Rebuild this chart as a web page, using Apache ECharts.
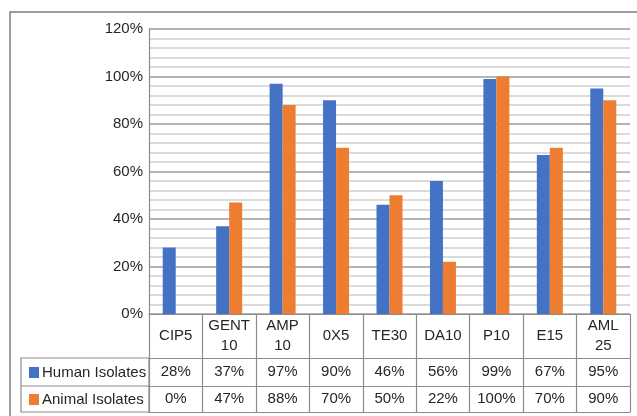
<!DOCTYPE html>
<html>
<head>
<meta charset="utf-8">
<script src="https://cdn.jsdelivr.net/npm/echarts@6/dist/echarts.min.js"></script>
<style>
  html, body { margin: 0; padding: 0; background: #fff; }
  #chart { width: 637px; height: 416px; }
</style>
</head>
<body>
<div id="chart"></div>
<script>
// Antibiotic resistance by isolate source
const categories = ['CIP5', 'GENT\n10', 'AMP\n10', '0X5', 'TE30', 'DA10', 'P10', 'E15', 'AML\n25'];
const humanIsolates = [0.28, 0.37, 0.97, 0.90, 0.46, 0.56, 0.99, 0.67, 0.95];
const animalIsolates = [0.00, 0.47, 0.88, 0.70, 0.50, 0.22, 1.00, 0.70, 0.90];
const seriesNames = ['Human Isolates', 'Animal Isolates'];
const yTicks = [0, 0.2, 0.4, 0.6, 0.8, 1.0, 1.2];

const pct = v => Math.round(v * 100) + '%';
const humanLabels = humanIsolates.map(pct);
const animalLabels = animalIsolates.map(pct);

const BLUE = '#4472C4';
const ORANGE = '#ED7D31';
const TEXT = '#262626';
const BORDER = '#8c8c8c';
const FONT = '"Liberation Sans", Arial, sans-serif';

const tableAxis = (data, offset, tickLen, margin, showLabel) => ({
  type: 'category',
  data: data,
  position: 'bottom',
  offset: offset,
  axisLine: { show: true, lineStyle: { color: BORDER, width: 1.2 } },
  axisTick: { show: tickLen > 0, length: tickLen, interval: 0, lineStyle: { color: BORDER, width: 1.2 } },
  axisLabel: {
    show: showLabel, interval: 0, margin: margin, verticalAlign: 'middle',
    color: TEXT, fontSize: 15, fontFamily: FONT, lineHeight: 20
  },
  splitLine: { show: false }
});

// one legend per table row, each sitting in the row's key cell
const rowLegend = (name, top) => ({
  left: 24,
  top: top,
  itemWidth: 10,
  itemHeight: 11,
  icon: 'rect',
  data: [name],
  textStyle: { color: TEXT, fontSize: 15, fontFamily: FONT, padding: [0, 0, 0, -2] }
});

const chart = echarts.init(document.getElementById('chart'), null, { renderer: 'canvas' });
chart.setOption({
  animation: false,
  backgroundColor: '#fff',
  textStyle: { fontFamily: FONT },
  grid: { left: 149, right: 7, top: 29, bottom: 102, containLabel: false },
  legend: [rowLegend(seriesNames[0], 360), rowLegend(seriesNames[1], 387)],
  xAxis: [
    tableAxis(categories, 0, 98, 22, true),
    tableAxis(humanLabels, 44, 0, 14, true),
    tableAxis(animalLabels, 72, 0, 13, true),
    tableAxis(categories, 98, 0, 0, false)
  ],
  yAxis: {
    type: 'value',
    min: yTicks[0],
    max: yTicks[yTicks.length - 1],
    interval: 0.2,
    axisLine: { show: true, lineStyle: { color: BORDER, width: 1.2 } },
    axisTick: { show: false },
    axisLabel: { formatter: v => pct(v), color: TEXT, fontSize: 15, fontFamily: FONT, margin: 6 },
    splitLine: { show: true, lineStyle: { color: '#9a9a9a', width: 1.5 } },
    minorTick: { show: false, splitNumber: 5 },
    minorSplitLine: { show: true, lineStyle: { color: '#d0d0d0', width: 1.5 } }
  },
  series: [
    {
      name: seriesNames[0], type: 'bar', xAxisIndex: 0, data: humanIsolates,
      itemStyle: { color: BLUE }, barWidth: 13, barGap: '0%'
    },
    {
      name: seriesNames[1], type: 'bar', xAxisIndex: 0, data: animalIsolates,
      itemStyle: { color: ORANGE }, barWidth: 13, barGap: '0%'
    }
  ],
  graphic: [
    // outer chart frame
    { type: 'rect', shape: { x: 10, y: 12, width: 700, height: 500 }, style: { fill: 'none', stroke: '#7f7f7f', lineWidth: 1.5 }, silent: true },
    // legend-key cells of the data table
    { type: 'rect', shape: { x: 21, y: 358, width: 128, height: 54 }, style: { fill: 'none', stroke: BORDER, lineWidth: 1.2 }, silent: true },
    { type: 'line', shape: { x1: 21, y1: 386, x2: 149, y2: 386 }, style: { stroke: BORDER, lineWidth: 1.2 }, silent: true }
  ]
});
</script>
</body>
</html>
